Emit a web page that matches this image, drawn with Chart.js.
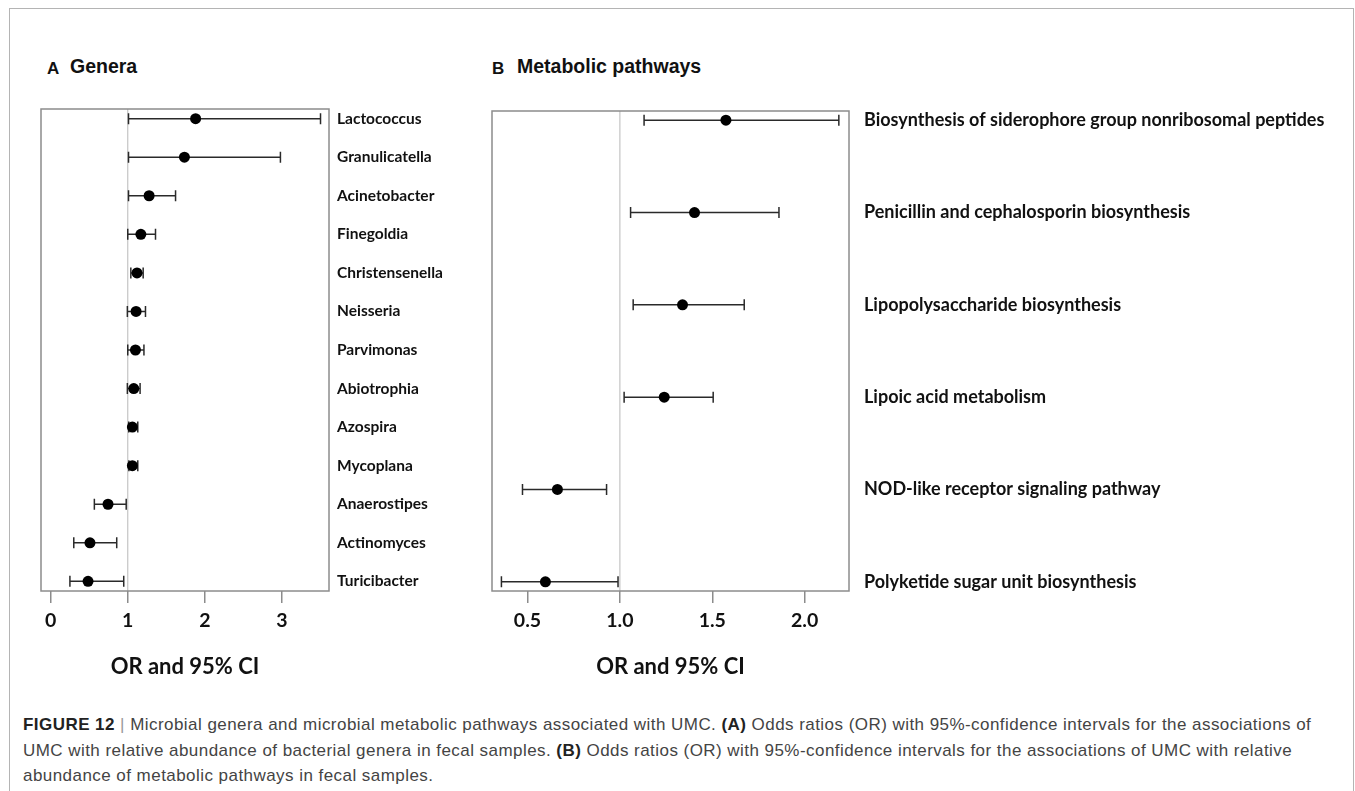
<!DOCTYPE html>
<html>
<head>
<meta charset="utf-8">
<script src="https://cdn.jsdelivr.net/npm/chart.js@4.4.1/dist/chart.umd.min.js"></script>
<style>
  body { margin: 0; background: #fff; width: 1355px; height: 791px; overflow: hidden; position: relative; }
  .frame { position: absolute; left: 9px; top: 8px; width: 1343px; height: 800px; border: 1.5px solid #b4b4b4; border-bottom: none; }
  .panel-title { position: absolute; font-family: "Liberation Sans", Arial, sans-serif; font-weight: bold; color: #111; }
  .letter { top: 59px; font-size: 17px; }
  .name { top: 55px; font-size: 19.5px; }
  .chart-box { position: absolute; }
  .caption { position: absolute; left: 23px; top: 712px; width: 1325px; font-family: "Liberation Sans", Arial, sans-serif; font-size: 17px; letter-spacing: 0.45px; line-height: 25.5px; color: #444; white-space: nowrap; }
  .caption b { color: #222; }
  .caption .bar { color: #999; }
</style>
</head>
<body>
<div class="frame"></div>

<div class="panel-title letter" style="left:47px;">A</div>
<div class="panel-title name" style="left:70px;">Genera</div>
<div class="panel-title letter" style="left:492px;">B</div>
<div class="panel-title name" style="left:517px;">Metabolic pathways</div>

<div class="chart-box" style="left:30px; top:100px; width:450px; height:600px;"><canvas id="generaChart"></canvas></div>
<div class="chart-box" style="left:480px; top:100px; width:875px; height:600px;"><canvas id="pathwayChart"></canvas></div>

<div class="caption">
<b>FIGURE 12</b> <span class="bar">|</span> Microbial genera and microbial metabolic pathways associated with UMC. <b>(A)</b> Odds ratios (OR) with 95%-confidence intervals for the associations of<br>
UMC with relative abundance of bacterial genera in fecal samples. <b>(B)</b> Odds ratios (OR) with 95%-confidence intervals for the associations of UMC with relative<br>
abundance of metabolic pathways in fecal samples.
</div>

<script>
// Panel A - genera
const genera = ['Lactococcus', 'Granulicatella', 'Acinetobacter', 'Finegoldia', 'Christensenella', 'Neisseria',
    'Parvimonas', 'Abiotrophia', 'Azospira', 'Mycoplana', 'Anaerostipes', 'Actinomyces', 'Turicibacter'];
const generaOR    = [1.88, 1.735, 1.277, 1.17, 1.12, 1.108, 1.10, 1.078, 1.06, 1.06, 0.744, 0.51, 0.485];
const generaLower = [1.01, 1.01, 1.01, 1.00, 1.04, 0.995, 1.00, 0.995, 1.013, 1.015, 0.567, 0.30, 0.25];
const generaUpper = [3.50, 2.98, 1.62, 1.36, 1.20, 1.23, 1.21, 1.16, 1.13, 1.13, 0.98, 0.857, 0.948];
const generaTicks = [0, 1, 2, 3];

// Panel B - metabolic pathways
const pathways = ['Biosynthesis of siderophore group nonribosomal peptides', 'Penicillin and cephalosporin biosynthesis',
    'Lipopolysaccharide biosynthesis', 'Lipoic acid metabolism', 'NOD-like receptor signaling pathway',
    'Polyketide sugar unit biosynthesis'];
const pathwayOR    = [1.574, 1.404, 1.339, 1.24, 0.662, 0.597];
const pathwayLower = [1.131, 1.058, 1.072, 1.023, 0.473, 0.359];
const pathwayUpper = [2.185, 1.861, 1.673, 1.505, 0.928, 0.99];
const pathwayTicks = [0.5, 1.0, 1.5, 2.0];

const labelFont = 'Lato';

// box, reference line at OR = 1 and whiskers
const forestPlugin = {
    id: 'forest',
    beforeDatasetsDraw(chart, args, opts) {
        const {ctx, chartArea: a, scales: {x, y}} = chart;
        ctx.save();
        // reference line
        const x1 = x.getPixelForValue(1);
        ctx.strokeStyle = '#c4c4c4';
        ctx.lineWidth = 1.2;
        ctx.beginPath();
        ctx.moveTo(x1, a.top);
        ctx.lineTo(x1, a.bottom);
        ctx.stroke();
        // whiskers
        ctx.strokeStyle = '#2a2a2a';
        ctx.lineWidth = 1.5;
        opts.lower.forEach((lo, i) => {
            const py = y.getPixelForValue(i + 1);
            const px0 = x.getPixelForValue(lo);
            const px1 = x.getPixelForValue(opts.upper[i]);
            ctx.beginPath();
            ctx.moveTo(px0, py);
            ctx.lineTo(px1, py);
            ctx.moveTo(px0, py - 5.5);
            ctx.lineTo(px0, py + 5.5);
            ctx.moveTo(px1, py - 5.5);
            ctx.lineTo(px1, py + 5.5);
            ctx.stroke();
        });
        // frame
        ctx.strokeStyle = '#8c8c8c';
        ctx.lineWidth = 1.5;
        ctx.strokeRect(a.left, a.top, a.right - a.left, a.bottom - a.top);
        ctx.restore();
    }
};

function makeForest(canvasId, labels, or, lower, upper, ticks, cfg) {
    const config = {
        type: 'scatter',
        data: {
            datasets: [{
                data: or.map((v, i) => ({x: v, y: i + 1})),
                backgroundColor: '#000',
                borderWidth: 0,
                pointRadius: 5.5,
                pointHoverRadius: 5.5
            }]
        },
        options: {
            responsive: false,
            animation: false,
            events: [],
            layout: {padding: {left: cfg.padLeft, top: cfg.padTop, right: 0, bottom: 0}},
            plugins: {
                legend: {display: false},
                tooltip: {enabled: false},
                forest: {lower: lower, upper: upper}
            },
            scales: {
                x: {
                    type: 'linear',
                    min: cfg.xMin,
                    max: cfg.xMax,
                    afterBuildTicks: s => { s.ticks = ticks.map(v => ({value: v})); },
                    afterFit: s => { s.height = cfg.xHeight; s.paddingLeft = 0; s.paddingRight = 0; },
                    border: {display: false},
                    grid: {drawOnChartArea: false, drawTicks: true, tickLength: 12, color: '#8c8c8c', lineWidth: 1.5},
                    ticks: {
                        padding: 6,
                        color: '#111',
                        font: {family: labelFont, size: 19.5, weight: 'bold'},
                        callback: v => cfg.decimals ? v.toFixed(cfg.decimals) : String(v)
                    },
                    title: {
                        display: true,
                        text: 'OR and 95% CI',
                        color: '#111',
                        font: {family: labelFont, size: 22, weight: 'bold'},
                        padding: {top: 0, bottom: cfg.titlePad}
                    }
                },
                y: {
                    type: 'linear',
                    position: 'right',
                    reverse: true,
                    min: cfg.yMin,
                    max: cfg.yMax,
                    afterBuildTicks: s => { s.ticks = labels.map((_, i) => ({value: i + 1})); },
                    afterFit: s => { s.width = cfg.yWidth; s.paddingTop = 0; s.paddingBottom = 0; },
                    border: {display: false},
                    grid: {display: false, drawTicks: false},
                    ticks: {
                        padding: cfg.labelPad,
                        color: '#111',
                        font: {family: labelFont, size: cfg.labelSize, weight: 'bold'},
                        callback: v => labels[v - 1]
                    }
                }
            }
        },
        plugins: [forestPlugin]
    };
    return new Chart(document.getElementById(canvasId), config);
}

const canvasA = document.getElementById('generaChart');
canvasA.width = 450; canvasA.height = 600;
const canvasB = document.getElementById('pathwayChart');
canvasB.width = 875; canvasB.height = 600;

makeForest('generaChart', genera, generaOR, generaLower, generaUpper, generaTicks, {
    padLeft: 11, padTop: 9, xMin: -0.125, xMax: 3.61, yMin: 0.75, yMax: 13.25,
    xHeight: 109, yWidth: 151, labelPad: 8, labelSize: 15.5, titlePad: 20, decimals: 0
});

makeForest('pathwayChart', pathways, pathwayOR, pathwayLower, pathwayUpper, pathwayTicks, {
    padLeft: 12, padTop: 11, xMin: 0.308, xMax: 2.24, yMin: 0.9, yMax: 6.1,
    xHeight: 109, yWidth: 506, labelPad: 15, labelSize: 18, titlePad: 20, decimals: 1
});
</script>
</body>
</html>
